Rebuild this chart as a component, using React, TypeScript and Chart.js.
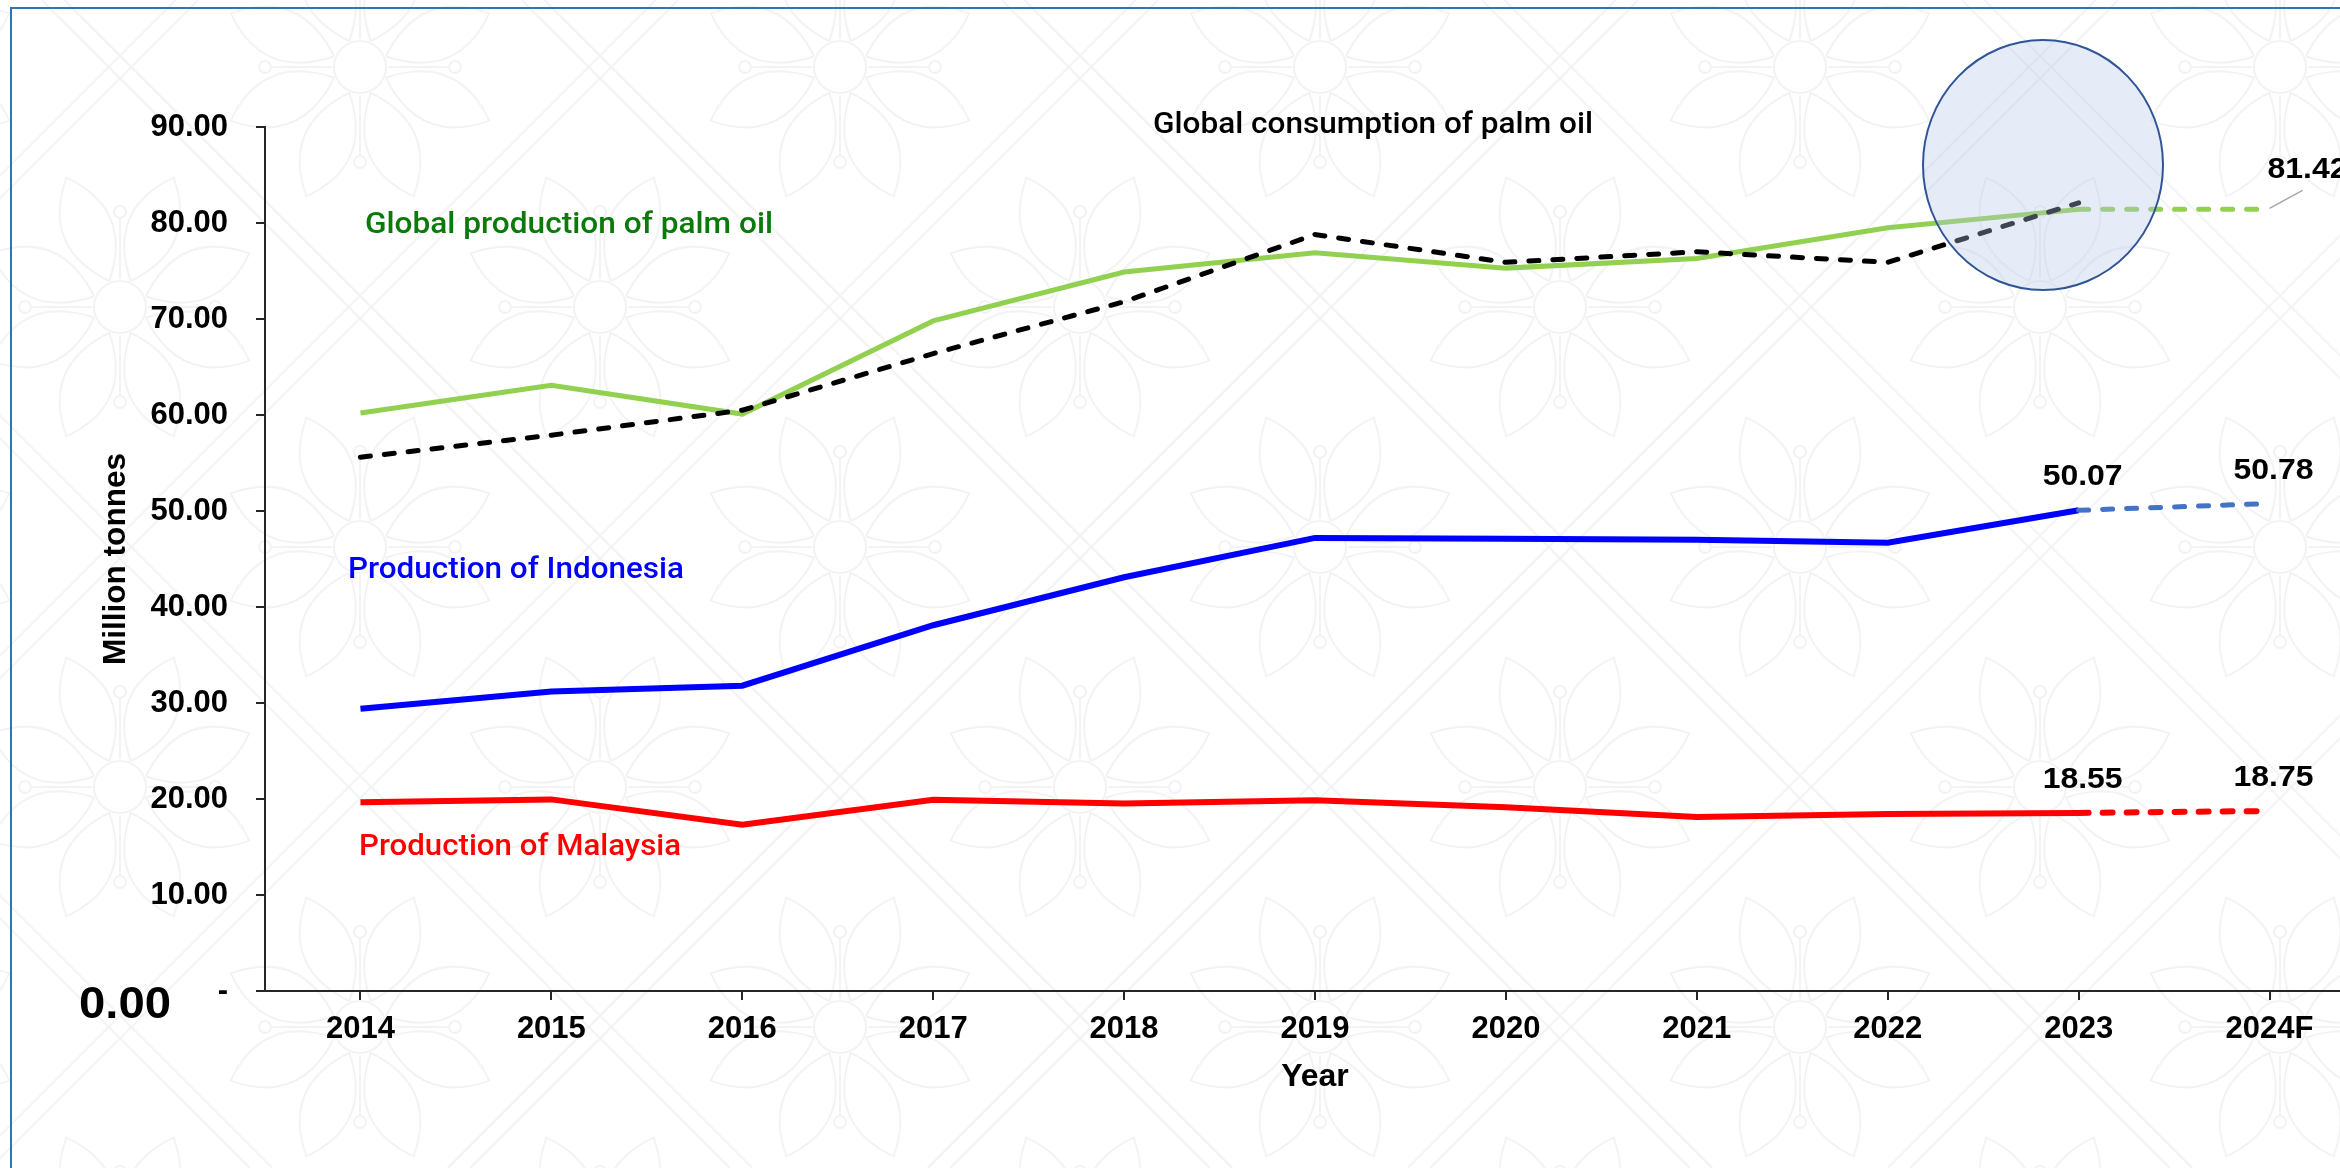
import React, { useEffect, useRef } from 'react';
import { Chart, registerables } from 'chart.js';

Chart.register(...registerables);

const years = ['2014', '2015', '2016', '2017', '2018', '2019', '2020', '2021', '2022', '2023', '2024F'];
const globalProduction = [60.2, 63.1, 60.1, 69.8, 74.9, 76.9, 75.3, 76.3, 79.5, 81.42, 81.42];
const globalConsumption = [55.6, 57.9, 60.5, 66.4, 71.8, 78.8, 75.9, 77.0, 75.9, 82.1, null];
const indonesia = [29.4, 31.2, 31.8, 38.1, 43.1, 47.2, 47.1, 47.0, 46.7, 50.07, 50.78];
const malaysia = [19.67, 19.96, 17.32, 19.92, 19.52, 19.86, 19.14, 18.12, 18.45, 18.55, 18.75];
const yMin = 0;
const yMax = 90;
const yStep = 10;

const seriesNames = {
  consumption: 'Global consumption of palm oil',
  production: 'Global production of palm oil',
  indonesia: 'Production of Indonesia',
  malaysia: 'Production of Malaysia',
};
const axisTitles = { x: 'Year', y: 'Million tonnes' };

const FORECAST_INDEX = years.length - 1;
const ARIAL = "'Liberation Sans', Arial, sans-serif";
const CW = 2420;
const CH = 1168;

function fitText(ctx: CanvasRenderingContext2D, text: string, x: number, y: number, width: number, font: string, color: string, align: 'left' | 'center' | 'right' = 'left') {
  ctx.save();
  ctx.font = font;
  ctx.fillStyle = color;
  ctx.textBaseline = 'alphabetic';
  ctx.textAlign = 'left';
  const m = ctx.measureText(text).width;
  const sx = width / m;
  const left = align === 'center' ? x - width / 2 : align === 'right' ? x - width : x;
  ctx.translate(left, y);
  ctx.scale(sx, 1);
  ctx.fillText(text, 0, 0);
  ctx.restore();
}

function drawFlower(ctx: CanvasRenderingContext2D, cx: number, cy: number) {
  ctx.beginPath();
  ctx.arc(cx, cy, 26, 0, Math.PI * 2);
  ctx.stroke();
  for (let k = 0; k < 8; k++) {
    const a = (k * Math.PI) / 4 + Math.PI / 8;
    const r0 = 28;
    const r1 = 140;
    const rm = 85;
    const ca = Math.cos(a);
    const sa = Math.sin(a);
    const px = -sa;
    const py = ca;
    ctx.beginPath();
    ctx.moveTo(cx + ca * r0, cy + sa * r0);
    ctx.quadraticCurveTo(cx + ca * rm + px * 50, cy + sa * rm + py * 50, cx + ca * r1, cy + sa * r1);
    ctx.quadraticCurveTo(cx + ca * rm - px * 50, cy + sa * rm - py * 50, cx + ca * r0, cy + sa * r0);
    ctx.stroke();
  }
  for (let k = 0; k < 4; k++) {
    const a = (k * Math.PI) / 2;
    const ca = Math.cos(a);
    const sa = Math.sin(a);
    ctx.beginPath();
    ctx.moveTo(cx + ca * 28, cy + sa * 28);
    ctx.lineTo(cx + ca * 89, cy + sa * 89);
    ctx.stroke();
    ctx.beginPath();
    ctx.arc(cx + ca * 95, cy + sa * 95, 6, 0, Math.PI * 2);
    ctx.stroke();
  }
}

const backgroundPlugin = {
  id: 'bgWatermark',
  beforeDraw(chart: any) {
    const ctx: CanvasRenderingContext2D = chart.ctx;
    const w = chart.width;
    const h = chart.height;
    ctx.save();
    ctx.fillStyle = '#FFFFFF';
    ctx.fillRect(0, 0, w, h);
    ctx.strokeStyle = '#F3F3F3';
    ctx.lineWidth = 2;
    for (let n = -6; n < 10; n++) {
      for (const off of [-8, 8]) {
        const c = 667 + 480 * n + off * Math.SQRT2;
        ctx.beginPath();
        ctx.moveTo(c, 0);
        ctx.lineTo(c - h, h);
        ctx.stroke();
        const d = 533 + 480 * n + off * Math.SQRT2;
        ctx.beginPath();
        ctx.moveTo(d, 0);
        ctx.lineTo(d + h, h);
        ctx.stroke();
      }
    }
    for (let i = -1; i < 7; i++) {
      for (let j = -1; j < 4; j++) {
        drawFlower(ctx, 360 + 480 * i, 67 + 480 * j);
        drawFlower(ctx, 600 + 480 * i, 307 + 480 * j);
      }
    }
    // outer frame
    ctx.strokeStyle = '#2E75B6';
    ctx.lineWidth = 2;
    ctx.strokeRect(11, 8, w + 100, h + 100);
    ctx.restore();
  },
};

const annotationPlugin = {
  id: 'annotations',
  afterDatasetsDraw(chart: any) {
    const ctx: CanvasRenderingContext2D = chart.ctx;
    const xs = chart.scales.x;
    const ys = chart.scales.y;
    const area = chart.chartArea;
    ctx.save();

    // highlight ellipse around 2023 consumption peak
    ctx.beginPath();
    ctx.ellipse(2043, 165, 120, 125, 0, 0, Math.PI * 2);
    ctx.fillStyle = 'rgba(181,198,232,0.35)';
    ctx.fill();
    ctx.lineWidth = 2;
    ctx.strokeStyle = '#2F5597';
    ctx.stroke();

    // series labels
    const dinFont = "500 30px Roboto, 'DejaVu Sans', sans-serif";
    fitText(ctx, seriesNames.consumption, 1153, 133, 440, dinFont, '#000000');
    fitText(ctx, seriesNames.production, 365, 233, 408, dinFont, '#0B7A0B');
    fitText(ctx, seriesNames.indonesia, 348, 578, 336, dinFont, '#0000FF');
    fitText(ctx, seriesNames.malaysia, 359, 855, 322, dinFont, '#FF0000');

    // value labels
    const boldFont = `bold 30px ${ARIAL}`;
    const valueLabel = (arr: number[], idx: number) => {
      const px = xs.getPixelForValue(idx);
      const py = ys.getPixelForValue(arr[idx]);
      fitText(ctx, arr[idx].toFixed(2), px + 4, py - 25, 80, boldFont, '#000000', 'center');
    };
    valueLabel(indonesia, FORECAST_INDEX - 1);
    valueLabel(indonesia, FORECAST_INDEX);
    valueLabel(malaysia, FORECAST_INDEX - 1);
    valueLabel(malaysia, FORECAST_INDEX);

    const gx = xs.getPixelForValue(FORECAST_INDEX);
    const gy = ys.getPixelForValue(globalProduction[FORECAST_INDEX]);
    ctx.beginPath();
    ctx.moveTo(gx, gy - 1);
    ctx.lineTo(gx + 33, gy - 19);
    ctx.strokeStyle = '#A6A6A6';
    ctx.lineWidth = 1.5;
    ctx.stroke();
    fitText(ctx, globalProduction[FORECAST_INDEX].toFixed(2), gx - 2, gy - 31, 80, boldFont, '#000000', 'left');

    // big zero label
    fitText(ctx, (0).toFixed(2), 171, 1018, 92, `bold 44px ${ARIAL}`, '#000000', 'right');

    // axis titles
    ctx.font = `bold 32px ${ARIAL}`;
    ctx.fillStyle = '#000000';
    ctx.textAlign = 'center';
    ctx.textBaseline = 'alphabetic';
    ctx.fillText(axisTitles.x, (area.left + area.right) / 2, 1086);

    ctx.save();
    ctx.translate(125, (area.top + area.bottom) / 2);
    ctx.rotate(-Math.PI / 2);
    fitText(ctx, axisTitles.y, 0, 0, 212, `bold 31px ${ARIAL}`, '#000000', 'center');
    ctx.restore();

    ctx.restore();
  },
};

const forecastDash = (ctx: any) => (ctx.p1DataIndex === FORECAST_INDEX ? [10, 14] : undefined);

export default function App() {
  const canvasRef = useRef<HTMLCanvasElement | null>(null);

  useEffect(() => {
    const canvas = canvasRef.current;
    if (!canvas) return;
    const chart = new Chart(canvas, {
      type: 'line',
      data: {
        labels: years,
        datasets: [
          {
            label: seriesNames.consumption,
            data: globalConsumption,
            borderColor: '#000000',
            borderWidth: 5,
            borderDash: [10, 14],
            borderCapStyle: 'round',
            pointRadius: 0,
            tension: 0,
          },
          {
            label: seriesNames.production,
            data: globalProduction,
            borderColor: '#92D050',
            borderWidth: 5,
            pointRadius: 0,
            tension: 0,
            segment: {
              borderDash: forecastDash,
              borderCapStyle: (c: any) => (c.p1DataIndex === FORECAST_INDEX ? 'round' : undefined),
            },
          },
          {
            label: seriesNames.indonesia,
            data: indonesia,
            borderColor: '#0000FF',
            borderWidth: 6,
            pointRadius: 0,
            tension: 0,
            segment: {
              borderDash: forecastDash,
              borderColor: (c: any) => (c.p1DataIndex === FORECAST_INDEX ? '#4472C4' : undefined),
              borderWidth: (c: any) => (c.p1DataIndex === FORECAST_INDEX ? 5 : undefined),
              borderCapStyle: (c: any) => (c.p1DataIndex === FORECAST_INDEX ? 'round' : undefined),
            },
          },
          {
            label: seriesNames.malaysia,
            data: malaysia,
            borderColor: '#FF0000',
            borderWidth: 6,
            pointRadius: 0,
            tension: 0,
            segment: {
              borderDash: forecastDash,
              borderCapStyle: (c: any) => (c.p1DataIndex === FORECAST_INDEX ? 'round' : undefined),
            },
          },
        ],
      },
      options: {
        animation: false,
        responsive: false,
        maintainAspectRatio: false,
        layout: { padding: { left: 1, right: CW - 2365, top: 127, bottom: 77 } },
        plugins: { legend: { display: false }, tooltip: { enabled: false } },
        scales: {
          x: {
            offset: true,
            grid: { display: true, drawOnChartArea: false, offset: false, tickLength: 9, color: '#262626', lineWidth: 2 },
            border: { display: true, color: '#262626', width: 2 },
            ticks: { color: '#000000', font: { family: ARIAL, weight: 'bold', size: 31 }, padding: 11, maxRotation: 0 },
            afterFit: (s: any) => {
              s.height = 100;
            },
          },
          y: {
            min: yMin,
            max: yMax,
            grid: { display: true, drawOnChartArea: false, tickLength: 9, color: '#262626', lineWidth: 2 },
            border: { display: true, color: '#262626', width: 2 },
            ticks: {
              stepSize: yStep,
              color: '#000000',
              font: { family: ARIAL, weight: 'bold', size: 31 },
              padding: 28,
              callback: (v: any) => (Number(v) === 0 ? '-' : Number(v).toFixed(2)),
            },
            afterFit: (s: any) => {
              s.width = 264;
            },
          },
        },
      },
      plugins: [backgroundPlugin, annotationPlugin],
    } as any);
    return () => chart.destroy();
  }, []);

  return (
    <div style={{ position: 'fixed', left: 0, top: 0, width: 2340, height: 1168, overflow: 'hidden', background: '#ffffff' }}>
      <canvas ref={canvasRef} width={CW} height={CH} style={{ display: 'block', width: CW, height: CH }} />
    </div>
  );
}
